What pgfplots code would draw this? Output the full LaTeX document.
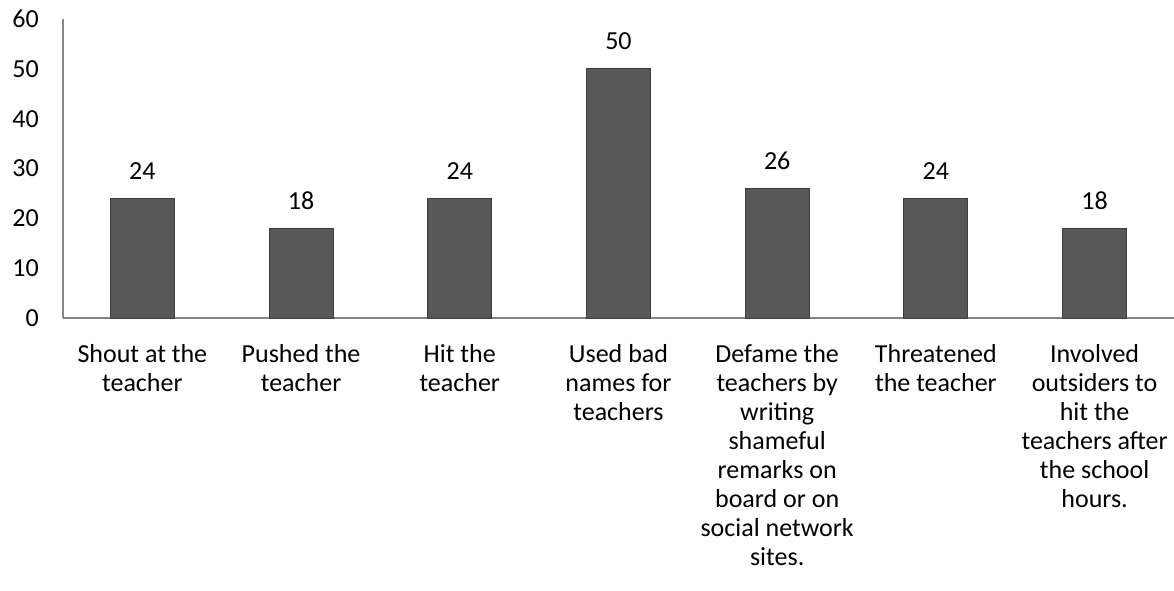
\documentclass[border=0pt]{standalone}
\usepackage{pgfplots}
\pgfplotsset{compat=1.18}
\usepackage{fontspec}
\setmainfont{Carlito}
\definecolor{barc}{RGB}{88,88,88}
\definecolor{axc}{RGB}{134,134,134}
\begin{document}
\begin{tikzpicture}
\useasboundingbox (-63pt,-272pt) rectangle (1111pt,318pt);
\begin{axis}[
    scale only axis, width=1111pt, height=299pt,
    at={(0pt,0pt)}, anchor=south west,
    ymin=0, ymax=60, ytick={0,10,...,60},
    xmin=-0.5, xmax=6.5,
    xtick=data,
    xticklabels={
      {Shout at the\\teacher},
      {Pushed the\\teacher},
      {Hit the\\teacher},
      {Used bad\\names for\\teachers},
      {Defame the\\teachers by\\writing\\shameful\\remarks on\\board or on\\social network\\sites.},
      {Threatened\\the teacher},
      {Involved\\outsiders to\\hit the\\teachers after\\the school\\hours.}},
    axis x line=bottom, axis y line=left,
    axis line style={draw=axc, line width=1.2pt, -},
    major tick length=0pt,
    tick style={draw=none},
    font=\fontsize{26}{29}\selectfont,
    /pgf/number format/assume math mode=true,
    yticklabel style={anchor=east, inner sep=0pt, xshift=-24pt},
    xticklabel style={align=center, anchor=north, inner sep=0pt, yshift=-26pt},
    ybar, bar width=64pt,
    nodes near coords,
    every node near coord/.append style={font=\fontsize{26}{29}\selectfont, yshift=15pt},
  ]
  \addplot[fill=barc, draw=barc!70!black, line width=1pt] coordinates {
    (0,24) (1,18) (2,24) (3,50) (4,26) (5,24) (6,18)
  };
\end{axis}
\end{tikzpicture}
\end{document}
